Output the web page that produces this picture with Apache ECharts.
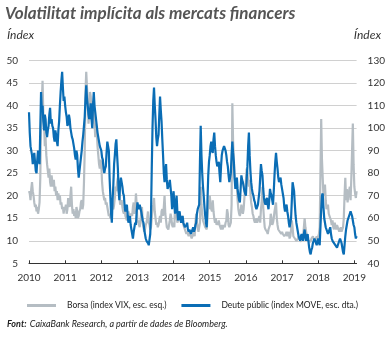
<!DOCTYPE html>
<html><head><meta charset="utf-8">
<script src="https://cdn.jsdelivr.net/npm/echarts@6/dist/echarts.min.js"></script>
<style>html,body{margin:0;padding:0;background:#fff}#c{width:388px;height:338px}</style>
</head><body><div id="c"></div>
<script>
// Weekly-ish observations (days 1, 8, 16, 23 of each month), Jan 2010 – Jan 2019
const years = [2010, 2011, 2012, 2013, 2014, 2015, 2016, 2017, 2018];
const months = ['01','02','03','04','05','06','07','08','09','10','11','12'];
const days = ['01','08','16','23'];
const extraPeriods = ['2019-01-01', '2019-01-08', '2019-01-16', '2019-01-23'];

// Borsa (índex VIX, escala esquerra)
const vix = [
  21,20.5,19,21.5,23,21,20,18.5,17.5,18,16.5,17.5,16,17,18.5,24,36,41,45.5,38,36,31,33,29,27,25.5,24,26,23,22,24.5,23,22,23.5,21,22,20,21,19,20.5,19,20,18,18.5,17,17.5,16,17.5,
  17,18,16,17,19.5,18.5,17.5,20,22,18,16,17,15.5,16.5,15,17.5,16.5,15,15.5,16.5,17,18.5,19,17,18,23,30,43,47.5,44,41,36,38,43,42,39,36,41,39,36,33,36,34,31,29,27,26,28,
  27,23,21,20,19,19.5,18,18.5,17.5,16.5,15.5,16,15,15.5,16.5,18,17,18,19.5,22,21,23,24,21.5,20,18,18.5,19,17.5,16.5,16,17,15.5,15,14.5,15.5,16.5,15.5,15,16,16,15.5,17.5,18.5,16,17,20.5,18,
  14,14.5,13.5,13,14.5,16,17.5,14,13,12,12.5,13.5,14,15,16.5,14,13.5,12.5,13,15,17,18,19.5,16.5,15,13.5,14,13,13.5,14.5,15.5,14,16.5,17,15.5,17.5,20,16,14.5,13,13,12.5,13.5,14.5,16,15,13.5,13,
  14,13,18,17,15.5,14,14.5,15,16,15,14,15.5,14.5,13.5,13,12.5,12.5,11.5,12,11.5,11,12,11.5,11,10.5,11,11.5,12,11,14,16,14,13,12,12,14,22,18,16,14.5,14,13.5,13,13,12.5,15,19,17,
  20,18,17,16.5,19,16.5,15,14,15,13.5,14,13.5,14.5,13.5,13,12.5,13.5,12.5,12.5,13.5,13,14,14.5,17,16,13.5,13,13.5,14,18,40.5,32,28,24,22.5,24,22,19,17,16,15.5,16.5,18,17,16,17,19.5,22,
  23,26,25,23,22,23.5,20.5,18.5,17.5,16,15.5,14.5,14,14,15,14,14.5,15,15.5,14,17,18.5,22,17.5,15,13,12.5,12.5,12,11.5,12.5,12.5,13.5,16,15,13.5,14,15,16.5,17.5,18.5,15,13.5,12.5,12.5,12,12,11.5,
  12,11.5,11.5,11,11,11.5,12,11,11.5,12,10.5,11,12.5,14.5,13,11,11,10.5,10.5,10,10,10.5,11,10.5,10.5,9.8,10.5,10,11,13,15,13,12,11,10.5,10,10,10,9.8,10.5,10.5,11,10.5,10,10,10.5,11,10.5,
  11,11.5,13,25,37,28,24,20,21,22.5,19,17,17.5,18,16,15.5,15,14.5,13.5,14.5,13,12.5,14,13,12.5,13.5,13,12.5,12,12.5,13,12,12.5,13,15,20,24,19,21.5,18.5,20,21,22,19,24,30,36,27,
  22,20.5,19.5,21
];

// Deute públic (índex MOVE, escala dreta)
const move = [
  107,98,92,90,88,84,86,89,85,81,80,86,90,86,84,100,116,108,110,103,99,106,104,98,96,99,101,106,109,102,104,101,100,96,94,99,97,94,92,99,103,110,116,121,125,118,112,114,
  110,107,105,101,102,106,104,100,98,96,95,93,91,88,86,90,88,82,78,81,84,87,90,94,97,101,105,113,119,113,110,106,104,108,111,104,100,110,116,110,107,104,101,98,96,94,92,91,
  90,87,86,82,80,82,83,89,94,92,90,78,70,62,58,68,75,84,88,93,95,88,82,72,68,75,78,76,74,71,70,65,63,65,66,61,58,60,61,57,55,53,51,54,56,58,57,63,
  67,65,64,66,66,63,61,59,58,55,53,51,50,50,49,48,48,53,62,82,100,112,118,110,104,96,92,95,97,106,114,108,103,95,88,80,76,81,84,77,73,74,75,77,77,70,64,68,
  72,66,62,67,70,63,59,62,63,60,58,60,61,58,57,56,56,57,58,55,54,55,55,53,53,55,56,54,55,57,58,62,64,65,66,85,101,88,80,74,70,65,61,58,56,68,79,85,
  88,92,94,90,89,95,98,92,88,85,83,84,85,80,76,83,88,90,91,92,92,90,88,85,83,79,76,78,80,88,94,89,85,78,73,76,78,73,70,68,67,73,79,77,76,74,72,71,
  70,77,83,92,98,88,81,76,73,71,70,68,67,65,64,65,66,69,72,78,84,81,79,73,69,67,66,68,69,66,64,68,73,71,70,68,66,72,79,85,89,85,82,78,76,77,78,75,
  73,71,69,65,63,65,66,63,61,58,56,58,60,68,76,74,72,66,61,58,56,54,52,51,50,52,53,51,50,53,55,52,50,52,53,50,47,45,44,46,47,49,50,51,51,49,48,50,
  51,49,48,56,64,70,71,65,60,58,56,55,54,53,53,55,56,53,51,50,50,49,49,48,48,47,47,49,50,51,51,49,47,45,44,48,52,55,57,59,60,61,62,63,63,61,59,57,
  56,53,51,52
];

const periods = [];
years.forEach(y => months.forEach(m => days.forEach(d => periods.push(y + '-' + m + '-' + d))));
extraPeriods.forEach(p => periods.push(p));

const isYearStart = (idx) => periods[idx] && periods[idx].slice(5) === '01-01';
const FONT = 'Lato';
const TXT = '#333';

const chart = echarts.init(document.getElementById('c'), null, {renderer: 'canvas'});
chart.setOption({
  animation: false,
  backgroundColor: '#fff',
  grid: {left: 29, top: 60.5, right: 30.4, bottom: 74.7, containLabel: false},
  xAxis: {
    type: 'category', data: periods, boundaryGap: false,
    axisLine: {lineStyle: {color: '#333', width: 1}},
    axisTick: {inside: true, length: 3, lineStyle: {color: '#333'}, interval: (i) => isYearStart(i)},
    axisLabel: {interval: (i) => isYearStart(i), formatter: (v) => v.slice(0, 4),
      fontFamily: FONT, fontSize: 10, color: TXT, margin: 9},
    splitLine: {show: false}
  },
  yAxis: [
    {type: 'value', min: 5, max: 50, interval: 5, position: 'left',
     axisLine: {show: false}, axisTick: {show: false},
     axisLabel: {fontFamily: FONT, fontSize: 10, color: TXT, margin: 11},
     splitLine: {lineStyle: {color: '#d0d0d0', width: 1}}},
    {type: 'value', min: 40, max: 130, interval: 10, position: 'right',
     axisLine: {show: false}, axisTick: {show: false},
     axisLabel: {fontFamily: FONT, fontSize: 10, color: TXT, margin: 11},
     splitLine: {show: false}}
  ],
  legend: {
    left: 22, top: 296, itemWidth: 29, itemHeight: 3, itemGap: 15, icon: 'rect',
    textStyle: {fontFamily: FONT, fontSize: 8.5, color: '#222', padding: [0, 0, 0, 6]},
    data: ['Borsa (index VIX, esc. esq.)', 'Deute públic (index MOVE, esc. dta.)']
  },
  graphic: [
    {type: 'text', left: 5, top: 5, style: {text: 'Volatilitat implícita als mercats financers',
      font: 'italic bold 17px Lato', fill: '#555'}},
    {type: 'text', left: 7, top: 29, style: {text: 'Índex', font: 'italic 12px Lato', fill: TXT}},
    {type: 'text', right: 7, top: 29, style: {text: 'Índex', font: 'italic 12px Lato', fill: TXT}},
    {type: 'text', left: 7, top: 318, style: {
      text: '{b|Font:} {i|CaixaBank Research, a partir de dades de Bloomberg.}',
      rich: {b: {font: 'italic bold 9px Lato', fill: '#222'}, i: {font: 'italic 9px Lato', fill: '#222'}}}}
  ],
  series: [
    {name: 'Borsa (index VIX, esc. esq.)', type: 'line', yAxisIndex: 0, data: vix, showSymbol: false,
     lineStyle: {color: '#b5bdc3', width: 2.2}, itemStyle: {color: '#b5bdc3'}},
    {name: 'Deute públic (index MOVE, esc. dta.)', type: 'line', yAxisIndex: 1, data: move, showSymbol: false,
     lineStyle: {color: '#0a6db5', width: 2.2}, itemStyle: {color: '#0a6db5'}}
  ]
});
</script></body></html>
